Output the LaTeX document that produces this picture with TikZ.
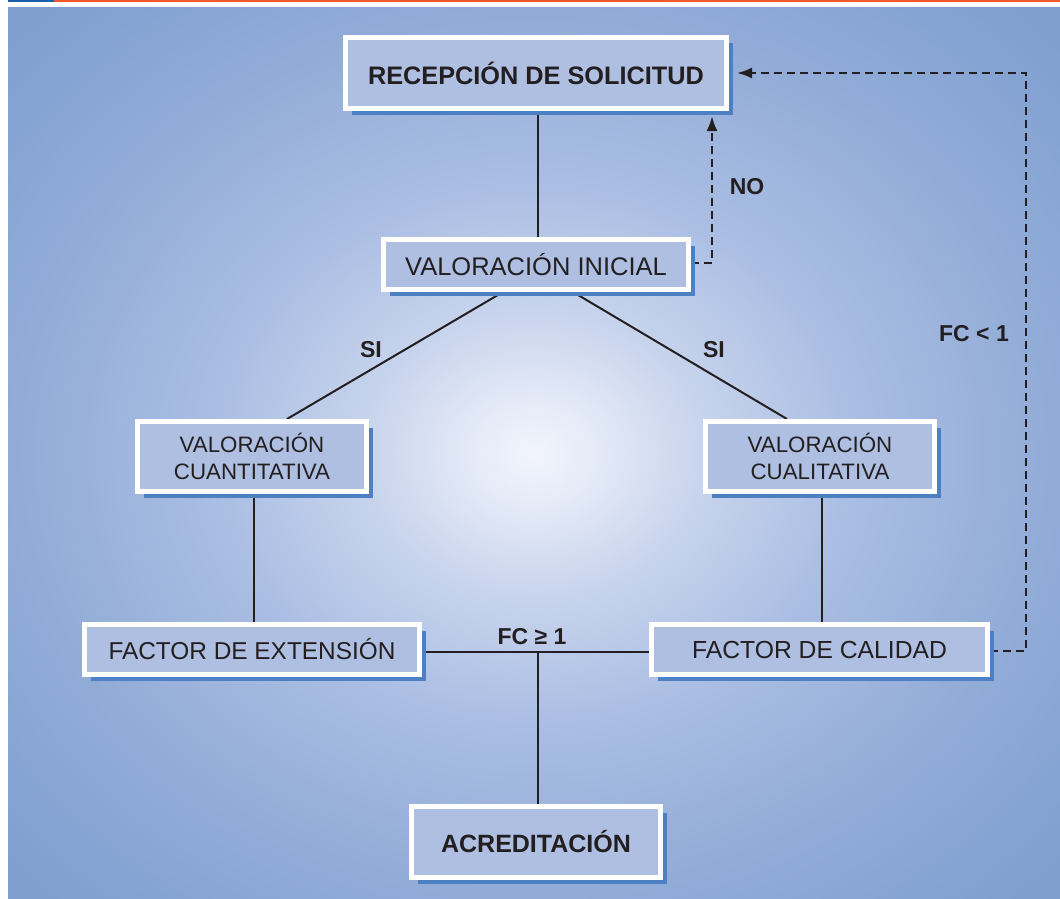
\documentclass[tikz,border=0pt]{standalone}
\usepackage{fontspec}
\setmainfont{Liberation Sans}
\usetikzlibrary{shadows,arrows.meta,calc}
\definecolor{boxfill}{HTML}{AEBFE1}
\definecolor{shadowc}{HTML}{4C80C2}
\definecolor{ink}{HTML}{231F20}
\definecolor{topblue}{HTML}{1B5EAB}
\definecolor{toporange}{HTML}{F05A28}
\definecolor{pc0}{HTML}{F2F5FC}
\definecolor{pc1}{HTML}{E4EAF7}
\definecolor{pc2}{HTML}{C8D4ED}
\definecolor{pc3}{HTML}{ABBEE3}
\definecolor{pc4}{HTML}{93ADD8}
\definecolor{pc5}{HTML}{7F9FD0}
\pgfdeclareradialshading{panelshade}{\pgfpoint{0bp}{0bp}}{%
color(0bp)=(pc0); color(3bp)=(pc1); color(8bp)=(pc2); color(15bp)=(pc3); color(24bp)=(pc4); color(34bp)=(pc5); color(75bp)=(pc5)}
\pgfdeclarelayer{bg}\pgfdeclarelayer{edges}\pgfsetlayers{bg,edges,main}
\begin{document}
\begin{tikzpicture}[x=1pt,y=-1pt,
  box/.style={draw=white, line width=5pt, fill=boxfill, inner sep=0pt, text=ink, align=center,
    drop shadow={shadow xshift=6pt, shadow yshift=-6pt, fill=shadowc, opacity=1}},
  conn/.style={draw=ink, line width=2pt},
  dsh/.style={draw=ink, line width=2.3pt, dash pattern=on 8pt off 5pt, -{Latex[length=15pt,width=11pt]}},
  lab/.style={text=ink, font=\fontsize{23}{27}\selectfont\bfseries, inner sep=0pt}
]
\useasboundingbox (0,0) rectangle (1060,899);
\begin{pgfonlayer}{bg}
  \fill[topblue] (8,0) rectangle (54,1.6);
  \fill[toporange] (54,0) rectangle (1060,1.6);
  \shade[shading=panelshade] (8,8) rectangle (1060,899);
\end{pgfonlayer}

\node[box, minimum width=381pt, minimum height=71pt, font=\fontsize{25.3}{30}\selectfont\bfseries] (b1) at (536,73) {RECEPCIÓN DE SOLICITUD};
\node[box, minimum width=305pt, minimum height=50pt, font=\fontsize{25.5}{30}\selectfont] (b2) at (536,264.5) {VALORACIÓN INICIAL};
\node[box, minimum width=229pt, minimum height=70pt, font=\fontsize{22.3}{27}\selectfont] (b3) at (252,456.5) {VALORACIÓN\\CUANTITATIVA};
\node[box, minimum width=229pt, minimum height=70pt, font=\fontsize{22.3}{27}\selectfont] (b4) at (820,456.5) {VALORACIÓN\\CUALITATIVA};
\node[box, minimum width=335pt, minimum height=50pt, font=\fontsize{24.4}{29}\selectfont] (b5) at (252,649.5) {FACTOR DE EXTENSIÓN};
\node[box, minimum width=336pt, minimum height=50pt, font=\fontsize{24.7}{29}\selectfont] (b6) at (819.5,649.5) {FACTOR DE CALIDAD};
\node[box, minimum width=249pt, minimum height=71pt, font=\fontsize{25}{30}\selectfont\bfseries] (b7) at (536,842) {ACREDITACIÓN};

\coordinate (noTop) at (712,116);
\coordinate (fcCorner) at (1026,73);
\coordinate (junc) at (538,652);

\begin{pgfonlayer}{edges}
  \draw[conn] ([xshift=2pt]b1.south) -- ([xshift=2pt]b2.north);
  \draw[conn] ([xshift=-33pt]b2.south) -- ([xshift=35pt]b3.north);
  \draw[conn] ([xshift=37pt]b2.south) -- ([xshift=-33pt]b4.north);
  \draw[conn] ([xshift=2pt]b3.south) -- ([xshift=2pt]b5.north);
  \draw[conn] ([xshift=2pt]b4.south) -- ([xshift=2.5pt]b6.north);
  \draw[conn] ([yshift=-2.5pt]b5.east) -- ([yshift=-2.5pt]b6.west);
  \draw[conn] (junc) -- ([xshift=2pt]b7.north);
  \draw[dsh] ([yshift=1.5pt]b2.east) -| (noTop);
  \draw[dsh] ([yshift=-1.5pt]b6.east) -| (fcCorner) -- ([xshift=8pt]b1.east);
\end{pgfonlayer}

\node[lab] (lno) at (747,187) {NO};
\node[lab] (lsi1) at (371,350) {SI};
\node[lab] (lsi2) at (714,350) {SI};
\node[lab] (lfc1) at (974,334) {FC < 1};
\node[lab] (lfc2) at (532,637) {FC ≥ 1};
\end{tikzpicture}
\end{document}
